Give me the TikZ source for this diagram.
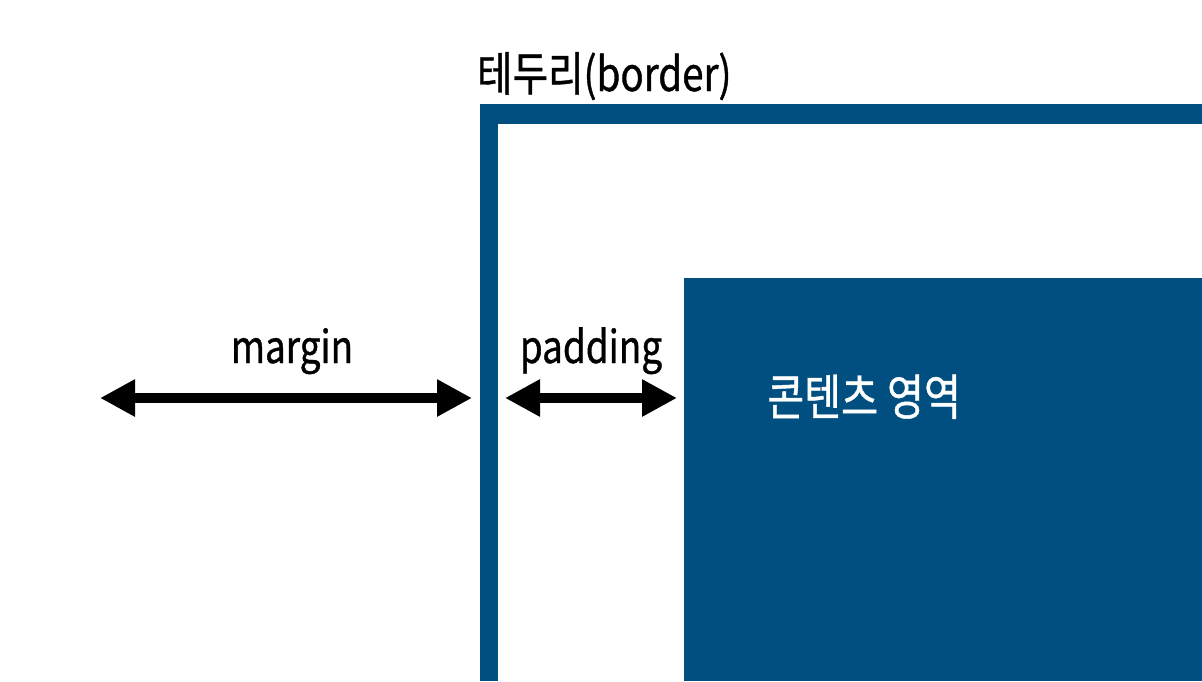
\documentclass[tikz,border=0pt]{standalone}
\usepackage{fontspec}
\setmainfont{Noto Sans CJK KR}[FakeStretch=0.82, FakeBold=0.8]
\usetikzlibrary{arrows.meta}
\definecolor{boxblue}{RGB}{0,79,128}
\tikzset{
  lbl/.style={font=\fontsize{45}{50}\selectfont, inner sep=0pt, text=black},
  dimarrow/.style={line width=10pt, {Triangle[width=35pt,length=35pt]}-{Triangle[width=35pt,length=35pt]}},
  bluefill/.style={fill=boxblue, draw=none}
}
\begin{document}
\begin{tikzpicture}[x=1pt,y=-1pt]
\useasboundingbox (0,0) rectangle (1202,681);
% border
\fill[bluefill] (480,104) rectangle (498,681);
\fill[bluefill] (480,104) rectangle (1202,124);
% content
\fill[bluefill] (684,278) rectangle (1202,681);
% labels
\node[lbl, anchor=base west, font=\fontsize{47}{52}\selectfont] (title) at (477,91) {테두리(border)};
\node[lbl, anchor=base] (margin) at (292,363) {margin};
\node[lbl, anchor=base] (padding) at (591,363) {padding};
\node[lbl, anchor=base west, text=white, font=\fontsize{49}{54}\selectfont] (content) at (767,415) {콘텐츠 영역};
% arrows
\coordinate (ml) at (100,398);
\coordinate (mr) at (472,398);
\coordinate (pl) at (505,398);
\coordinate (pr) at (677,398);
\draw[dimarrow] (ml) -- (mr);
\draw[dimarrow] (pl) -- (pr);
\end{tikzpicture}
\end{document}
